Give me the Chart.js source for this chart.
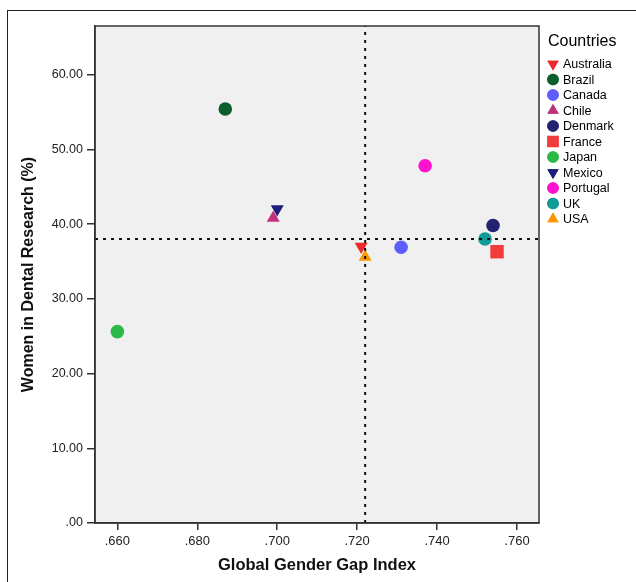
<!DOCTYPE html>
<html>
<head>
<meta charset="utf-8">
<script src="https://cdn.jsdelivr.net/npm/chart.js@4.4.1/dist/chart.umd.min.js"></script>
<style>
html, body { margin: 0; padding: 0; background: #fff; }
#wrap { position: relative; width: 636px; height: 582px; overflow: hidden; }
#frame { position: absolute; left: 7px; top: 10px; width: 640px; height: 600px; border: 1.5px solid #222; }
#chart { position: absolute; left: 0; top: 0; }
</style>
</head>
<body>
<div id="wrap">
  <div id="frame"></div>
  <canvas id="chart" width="636" height="582"></canvas>
</div>
<script>
const countries = ['Australia', 'Brazil', 'Canada', 'Chile', 'Denmark', 'France', 'Japan', 'Mexico', 'Portugal', 'UK', 'USA']
const gggi = [0.721, 0.687, 0.731, 0.699, 0.754, 0.755, 0.660, 0.700, 0.737, 0.752, 0.722]
const womenPct = [37.0, 55.4, 36.9, 40.8, 39.8, 36.3, 25.6, 42.0, 47.8, 38.0, 35.6]
const refGggi = 0.722
const refWomen = 38.0
const xTicks = [0.660, 0.680, 0.700, 0.720, 0.740, 0.760]
const yTicks = [0, 10, 20, 30, 40, 50, 60]

// marker look per country
const colors = ['#f0282a', '#0b5e2c', '#5e5eff', '#c0307e', '#222270', '#f23c3c', '#2db84a', '#1e1e7a', '#ff12cf', '#109a98', '#ff9500']
const shapes = ['triangle', 'circle', 'circle', 'triangle', 'circle', 'rect', 'circle', 'triangle', 'circle', 'circle', 'triangle']
const rotations = [180, 0, 0, 0, 0, 0, 0, 180, 0, 0, 0]

const X_MIN = 0.6544, X_MAX = 0.7655
const Y_MIN = 0, Y_MAX = 66.5
const FONT = "'Liberation Sans', Arial, sans-serif"

const markerRadius = (shape, small) => {
    if (shape === 'rect') return small ? 8 : 9.5
    if (shape === 'triangle') return small ? 6.5 : 7.5
    return small ? 5.8 : 6.8
}

const countryDatasets = countries.map((c, i) => ({
    label: c,
    data: [{ x: gggi[i], y: womenPct[i] }],
    backgroundColor: colors[i],
    borderColor: colors[i],
    borderWidth: 0,
    pointStyle: shapes[i],
    rotation: rotations[i],
    pointRadius: markerRadius(shapes[i], false),
    order: 1
}))

const refLine = (data) => ({
    label: '',
    data: data,
    showLine: true,
    borderColor: '#111',
    borderWidth: 2,
    borderDash: [3, 5],
    pointRadius: 0,
    order: 0
})

const plotBox = {
    id: 'plotBox',
    beforeDraw(chart) {
        const { ctx, chartArea: a } = chart
        ctx.save()
        ctx.fillStyle = '#f0f0f0'
        ctx.fillRect(a.left, a.top, a.right - a.left, a.bottom - a.top)
        ctx.restore()
    },
    afterDraw(chart) {
        const { ctx, chartArea: a } = chart
        ctx.save()
        ctx.strokeStyle = '#333'
        ctx.lineWidth = 1.5
        ctx.strokeRect(a.left, a.top, a.right - a.left, a.bottom - a.top)

        // legend
        ctx.fillStyle = '#000'
        ctx.font = '16px ' + FONT
        ctx.textBaseline = 'middle'
        ctx.fillText('Countries', 548, 42)
        ctx.font = '12.5px ' + FONT
        countries.forEach((c, i) => {
            const y = 64 + i * 15.5
            ctx.fillStyle = colors[i]
            Chart.helpers.drawPoint(ctx, {
                pointStyle: shapes[i],
                rotation: rotations[i],
                radius: markerRadius(shapes[i], true),
                borderWidth: 0
            }, 553, y)
            ctx.fill()
            ctx.fillStyle = '#000'
            ctx.fillText(c, 563, y + 1)
        })
        ctx.restore()
    }
}

const ctx = document.getElementById('chart').getContext('2d')
new Chart(ctx, {
    type: 'scatter',
    data: {
        datasets: [
            refLine([{ x: refGggi, y: Y_MIN }, { x: refGggi, y: Y_MAX }]),
            refLine([{ x: X_MIN, y: refWomen }, { x: X_MAX, y: refWomen }]),
            ...countryDatasets
        ]
    },
    options: {
        responsive: false,
        animation: false,
        layout: { padding: { left: 0, top: 26, right: 97, bottom: 0 } },
        plugins: {
            legend: { display: false },
            tooltip: { enabled: false }
        },
        scales: {
            x: {
                type: 'linear',
                min: X_MIN,
                max: X_MAX,
                afterBuildTicks: s => { s.ticks = xTicks.map(v => ({ value: v })) },
                afterFit: s => { s.height = 59 },
                ticks: {
                    color: '#222',
                    font: { family: FONT, size: 13 },
                    padding: 4,
                    maxRotation: 0,
                    callback: v => v.toFixed(3).replace(/^0/, '')
                },
                grid: { drawOnChartArea: false, drawTicks: true, tickLength: 7, color: '#333', lineWidth: 1.5 },
                border: { display: true, color: '#333', width: 1.5 },
                title: {
                    display: true,
                    text: 'Global Gender Gap Index',
                    color: '#111',
                    font: { family: FONT, size: 16.5, weight: 'bold' },
                    padding: { top: 0, bottom: 7 }
                }
            },
            y: {
                type: 'linear',
                min: Y_MIN,
                max: Y_MAX,
                afterBuildTicks: s => { s.ticks = yTicks.map(v => ({ value: v })) },
                afterFit: s => { s.width = 95 },
                ticks: {
                    color: '#222',
                    font: { family: FONT, size: 12.5 },
                    padding: 4,
                    callback: v => v.toFixed(2).replace(/^0/, '')
                },
                grid: { drawOnChartArea: false, drawTicks: true, tickLength: 8, color: '#333', lineWidth: 1.5 },
                border: { display: true, color: '#333', width: 1.5 },
                title: {
                    display: true,
                    text: 'Women in Dental Research (%)',
                    color: '#111',
                    font: { family: FONT, size: 16, weight: 'bold' },
                    padding: { top: 19, bottom: 0 }
                }
            }
        }
    },
    plugins: [plotBox]
})
</script>
</body>
</html>
